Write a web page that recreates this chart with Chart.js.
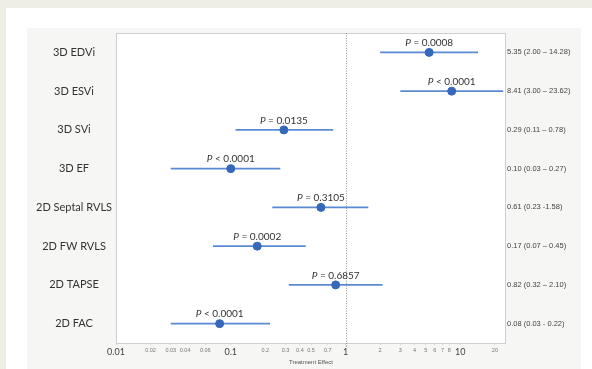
<!DOCTYPE html>
<html>
<head>
<meta charset="utf-8">
<script src="https://cdn.jsdelivr.net/npm/chart.js@4"></script>
<style>
  html, body { margin: 0; padding: 0; background: #eeeee5; }
  canvas { display: block; }
</style>
</head>
<body>
<canvas id="forest" width="592" height="369"></canvas>
<script>
const categories = ['3D EDVi', '3D ESVi', '3D SVi', '3D EF', '2D Septal RVLS', '2D FW RVLS', '2D TAPSE', '2D FAC'];
const estimates = [5.35, 8.41, 0.29, 0.10, 0.61, 0.17, 0.82, 0.08];
const lower = [2.00, 3.00, 0.11, 0.03, 0.23, 0.07, 0.32, 0.03];
const upper = [14.28, 23.62, 0.78, 0.27, 1.58, 0.45, 2.10, 0.22];
const pValues = ['= 0.0008', '< 0.0001', '= 0.0135', '< 0.0001', '= 0.3105', '= 0.0002', '= 0.6857', '< 0.0001'];
const ciLabels = ['5.35 (2.00 – 14.28)', '8.41 (3.00 – 23.62)', '0.29 (0.11 – 0.78)', '0.10 (0.03 – 0.27)',
  '0.61 (0.23 -1.58)', '0.17 (0.07 – 0.45)', '0.82 (0.32 – 2.10)', '0.08 (0.03 - 0.22)'];
const tickValues = [0.01, 0.02, 0.03, 0.04, 0.06, 0.1, 0.2, 0.3, 0.4, 0.5, 0.7, 1, 2, 3, 4, 5, 6, 7, 8, 10, 20];
const majorTicks = [0.01, 0.1, 1, 10];

const lineColor = '#5a8ad4';
const dotColor = '#3567ba';

// one short line dataset per confidence interval
const ciSets = categories.map((c, i) => ({
  type: 'line',
  data: [{ x: lower[i], y: c }, { x: upper[i], y: c }],
  borderColor: lineColor,
  borderWidth: 1.6,
  pointRadius: 0,
  order: 2
}));

const frame = {
  id: 'frame',
  beforeDraw(chart) {
    const ctx = chart.ctx;
    const a = chart.chartArea;
    ctx.save();
    ctx.fillStyle = '#eeeee5';
    ctx.fillRect(0, 0, 592, 369);
    ctx.fillStyle = '#ffffff';
    ctx.fillRect(6, 8, 586, 361);
    ctx.fillStyle = '#f6f6f4';
    ctx.fillRect(27, 28, 554, 341);
    ctx.fillStyle = '#ffffff';
    ctx.fillRect(a.left, a.top, a.right - a.left, a.bottom - a.top);
    ctx.restore();
  },
  beforeDatasetsDraw(chart) {
    const ctx = chart.ctx;
    const a = chart.chartArea;
    const x1 = Math.round(chart.scales.x.getPixelForValue(1)) + 0.5;
    ctx.save();
    ctx.strokeStyle = '#cfcfcf';
    ctx.lineWidth = 1;
    ctx.strokeRect(a.left + 0.5, a.top + 0.5, a.right - a.left - 1, a.bottom - a.top);
    ctx.strokeStyle = '#9a9a9a';
    ctx.setLineDash([1, 1.5]);
    ctx.beginPath();
    ctx.moveTo(x1, a.top);
    ctx.lineTo(x1, a.bottom + 4);
    ctx.stroke();
    ctx.restore();
  },
  afterDatasetsDraw(chart) {
    const ctx = chart.ctx;
    const xs = chart.scales.x, ys = chart.scales.y;
    ctx.save();
    ctx.fillStyle = '#333';
    ctx.textBaseline = 'middle';
    categories.forEach((c, i) => {
      const px = xs.getPixelForValue(estimates[i]);
      const py = ys.getPixelForValue(i) - 9.5;
      ctx.font = 'italic 10px Lato';
      const wP = ctx.measureText('P').width;
      ctx.font = '10px Lato';
      const rest = ' ' + pValues[i];
      const wR = ctx.measureText(rest).width;
      const x0 = px - (wP + wR) / 2;
      ctx.font = 'italic 10px Lato';
      ctx.textAlign = 'left';
      ctx.fillText('P', x0, py);
      ctx.font = '10px Lato';
      ctx.fillText(rest, x0 + wP, py);
    });
    ctx.restore();
  }
};

new Chart(document.getElementById('forest'), {
  type: 'scatter',
  data: {
    datasets: [{
      data: estimates.map((v, i) => ({ x: v, y: categories[i] })),
      backgroundColor: dotColor,
      borderColor: dotColor,
      pointRadius: 4,
      order: 1
    }, ...ciSets]
  },
  options: {
    responsive: false,
    animation: false,
    layout: { padding: { left: 28, right: 11, top: 33, bottom: 0 } },
    plugins: { legend: { display: false }, tooltip: { enabled: false } },
    scales: {
      x: {
        type: 'logarithmic',
        min: 0.01,
        max: 25,
        afterBuildTicks: s => { s.ticks = tickValues.map(v => ({ value: v, major: majorTicks.includes(v) })); },
        afterFit: s => { s.height = 26; },
        grid: { drawOnChartArea: false, drawTicks: true, tickLength: 2, color: '#d8d8d8' },
        border: { display: false },
        ticks: {
          autoSkip: false,
          maxRotation: 0,
          padding: 2,
          callback: v => String(v),
          color: ctx => majorTicks.includes(ctx.tick.value) ? '#444' : '#777',
          font: ctx => majorTicks.includes(ctx.tick.value)
            ? { family: 'Lato', size: 9 }
            : { family: 'Liberation Sans', size: 5.5 }
        },
        title: {
          display: true,
          text: 'Treatment Effect',
          color: '#555',
          font: { family: 'Liberation Sans', size: 6 },
          padding: { top: 2, bottom: 3 }
        }
      },
      y: {
        type: 'category',
        labels: categories,
        offset: true,
        position: 'left',
        afterFit: s => { s.width = 88; },
        grid: { display: false, drawTicks: false },
        border: { display: false },
        ticks: {
          crossAlign: 'center',
          padding: 4,
          color: '#333',
          font: { family: 'Lato', size: 11 }
        }
      },
      y2: {
        type: 'category',
        labels: ciLabels,
        offset: true,
        position: 'right',
        afterFit: s => { s.width = 75; },
        grid: { display: false, drawTicks: false },
        border: { display: false },
        ticks: {
          crossAlign: 'near',
          padding: 1,
          color: '#444',
          font: { family: 'Liberation Sans', size: 7.5 }
        }
      }
    }
  },
  plugins: [frame]
});
</script>
</body>
</html>
